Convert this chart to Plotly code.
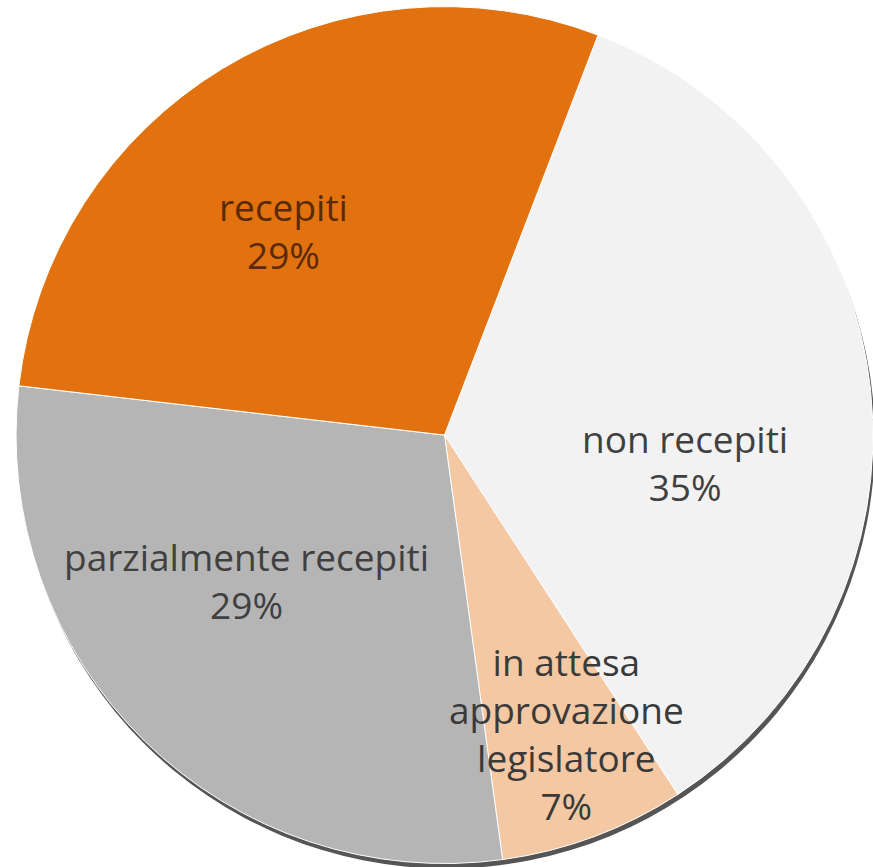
import plotly.graph_objects as go

# ---- data ----
labels = ["non recepiti", "in attesa<br>approvazione<br>legislatore", "parzialmente recepiti", "recepiti"]
values = [35, 7, 29, 29]

# ---- styles ----
colors = ["#F2F2F2", "#F4C8A2", "#B5B5B5", "#E2720F"]
text_colors = ["#404040", "#3A3A3A", "#404040", "#5A2A06"]
# label anchor positions (paper coords), one per slice
label_x = [0.7845, 0.649, 0.282, 0.325]
label_y = [0.466, 0.154, 0.331, 0.734]

W, H = 873, 867
dom_x = [0.0183, 1.0]
dom_y = [0.004, 0.9924]

total = sum(values)

# subtle 3D rim (shadow) behind the pie, derived from the pie domain
w_px = (dom_x[1] - dom_x[0]) * W
h_px = (dom_y[1] - dom_y[0]) * H
r_px = min(w_px, h_px) / 2
cx_px = (dom_x[0] + dom_x[1]) / 2 * W
cy_px = (1 - (dom_y[0] + dom_y[1]) / 2) * H
off_x, off_y = 2, 5
shadow = dict(
    type="circle", xref="paper", yref="paper", layer="below",
    x0=(cx_px - r_px + off_x) / W, x1=(cx_px + r_px + off_x) / W,
    y0=1 - (cy_px + r_px + off_y) / H, y1=1 - (cy_px - r_px + off_y) / H,
    fillcolor="#555555", line=dict(width=0),
)

fig = go.Figure(
    go.Pie(
        labels=labels,
        values=values,
        sort=False,
        direction="clockwise",
        rotation=21,
        marker=dict(colors=colors, line=dict(color="#FFFFFF", width=1)),
        textinfo="none",
        hoverinfo="label+percent",
        showlegend=False,
        domain=dict(x=dom_x, y=dom_y),
    )
)

annotations = []
for lab, v, x, y, c in zip(labels, values, label_x, label_y, text_colors):
    annotations.append(
        dict(
            x=x, y=y, xref="paper", yref="paper",
            text=f"{lab}<br>{round(v / total * 100)}%",
            showarrow=False,
            xanchor="center", yanchor="middle",
            font=dict(family="Open Sans", size=37, color=c),
        )
    )

fig.update_layout(
    width=W,
    height=H,
    margin=dict(l=0, r=0, t=0, b=0),
    paper_bgcolor="white",
    plot_bgcolor="white",
    annotations=annotations,
    shapes=[shadow],
)

fig.write_html(
    "out.html",
    config={"displayModeBar": False},
    post_script="document.body.style.margin='0px';document.body.style.overflow='hidden';",
)
